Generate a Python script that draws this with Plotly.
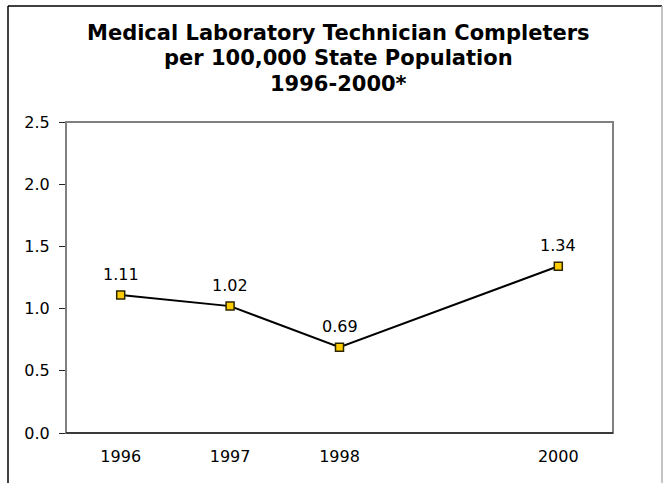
import plotly.graph_objects as go

years = [1996, 1997, 1998, 2000]
values = [1.11, 1.02, 0.69, 1.34]
labels = ["1.11", "1.02", "0.69", "1.34"]
tick_years = [1996, 1997, 1998, 2000]
tick_text = ["1996", "1997", "1998", "2000"]
y_ticks = [0.0, 0.5, 1.0, 1.5, 2.0, 2.5]
title_lines = ["Medical Laboratory Technician Completers",
               "per 100,000 State Population",
               "1996-2000*"]

W, H = 663, 483
ml, mr, mt, mb = 66, 50, 122, 50
pw, ph = W - ml - mr, H - mt - mb

def px_x(p):
    return (p - ml) / pw

def px_y(p):
    return (H - mb - p) / ph

FONT = "DejaVu Sans, Arial, sans-serif"

fig = go.Figure()
fig.add_trace(go.Scatter(
    x=years, y=values, mode="lines+markers",
    line=dict(color="black", width=2),
    marker=dict(symbol="square", size=8, color="#FFCC00",
                line=dict(color="#2b2600", width=1.5)),
    cliponaxis=False, showlegend=False, hoverinfo="x+y",
))

annotations = []
for xv, yv, t in zip(years, values, labels):
    annotations.append(dict(
        x=xv, y=yv, xref="x", yref="y", text=t, showarrow=False,
        xanchor="center", yanchor="bottom", yshift=9,
        font=dict(family=FONT, size=16, color="black"),
    ))

title_y = [33, 58.5, 84]
for line, ty in zip(title_lines, title_y):
    annotations.append(dict(
        x=px_x(338), y=px_y(ty), xref="paper", yref="paper",
        text="<b>" + line + "</b>", showarrow=False,
        xanchor="center", yanchor="middle",
        font=dict(family=FONT, size=21, color="black"),
    ))

fig.update_layout(
    width=W, height=H,
    margin=dict(l=ml, r=mr, t=mt, b=mb),
    paper_bgcolor="white", plot_bgcolor="white",
    font=dict(family=FONT, size=16, color="black"),
    xaxis=dict(
        range=[1995.5, 2000.5], tickvals=tick_years, ticktext=tick_text,
        showgrid=False, zeroline=False, showline=False, ticks="",
        tickfont=dict(size=16), ticklabelstandoff=12,
    ),
    yaxis=dict(
        range=[0, 2.5], tickvals=y_ticks, tickformat=".1f",
        showgrid=False, zeroline=False, showline=False,
        ticks="outside", ticklen=6, tickcolor="#222222", tickwidth=1,
        tickfont=dict(size=16), ticklabelstandoff=6,
    ),
    annotations=annotations,
    shapes=[
        dict(type="rect", xref="paper", yref="paper", x0=0, y0=0, x1=1, y1=1,
             line=dict(color="#808080", width=2), layer="above"),
        dict(type="line", xref="paper", yref="paper", x0=0, y0=0, x1=1, y1=0,
             line=dict(color="#3a3a3a", width=2), layer="above"),
        dict(type="line", xref="paper", yref="paper",
             x0=px_x(8), x1=px_x(8), y0=px_y(6), y1=px_y(490),
             line=dict(color="black", width=1.5)),
        dict(type="line", xref="paper", yref="paper",
             x0=px_x(8), x1=px_x(662), y0=px_y(6), y1=px_y(6),
             line=dict(color="black", width=1.5)),
        dict(type="line", xref="paper", yref="paper",
             x0=px_x(662), x1=px_x(662), y0=px_y(6), y1=px_y(490),
             line=dict(color="#b0b0b0", width=1.5)),
    ],
)

fig.write_html("out.html", config={"displayModeBar": False},
               post_script="document.body.style.margin='0px';")
